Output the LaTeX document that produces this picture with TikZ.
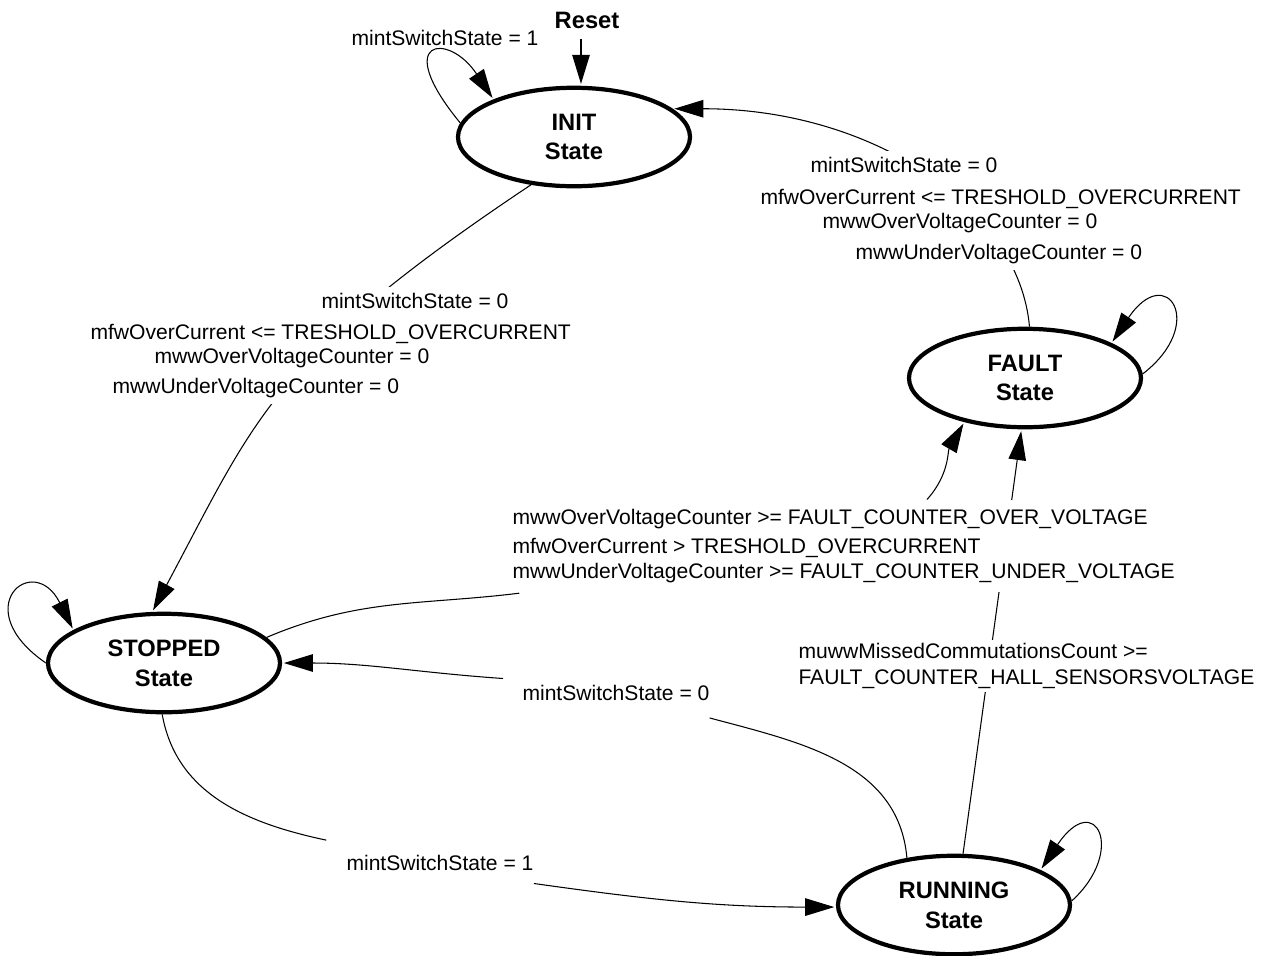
\documentclass[tikz,border=0pt]{standalone}
\usepackage{fontspec}
\setmainfont{Liberation Sans}
\usetikzlibrary{positioning, arrows.meta, shapes.geometric}

\begin{document}
\begin{tikzpicture}[on grid,line width=0.6pt,shorten >=1pt,
		>={Triangle[length=0.58cm,width=0.35cm]},
		fsmstate/.style={ellipse,draw,line width=2.4pt,minimum width=4.64cm,minimum height=1.97cm,
			inner sep=0pt,align=center,font=\fontsize{13.5}{17}\selectfont\bfseries},
		cond/.style={anchor=north west,align=left,fill=white,inner sep=3.4pt,
			font=\fontsize{12}{14}\selectfont}]
	\useasboundingbox (0,0) rectangle (25.48,-19.1);
			\node[fsmstate] (init) at (11.48,-2.74) 					{INIT\\State};
			\node[fsmstate] (fault) [below right=4.82cm and 9.02cm of init]	{FAULT\\State};
			\node[fsmstate] (stopped) [below left=10.52cm and 8.2cm of init]	{STOPPED\\State};
			\node[fsmstate] (running) [below right=4.84cm and 15.8cm of stopped]	{RUNNING\\State};
			\node[font=\fontsize{13.5}{17}\selectfont\bfseries,inner sep=0.2cm] (reset) [above=2.34cm of init,xshift=0.26cm] {Reset};
			\node[font=\fontsize{12}{14}\selectfont] (initloop) at (8.9,-0.76) {mintSwitchState = 1};

			\draw[->] ([xshift=-0.12cm]reset.south) -- ([xshift=0.14cm]init.north);
			\draw[->] (init.173) .. controls +(-1.4,1.7) and +(-0.9,1.36) .. (init.155);
			\draw[->] (stopped.180) .. controls +(-1.6,1.1) and +(-0.8,1.6) .. (stopped.160);
			\draw[->] (fault.2) .. controls +(1.3,1.0) and +(1.1,1.64) .. (fault.22);
			\draw[->] (running.2) .. controls +(1.1,1.0) and +(1.1,1.64) .. (running.22);

			\draw[->] (init.228) .. controls +(-5.2,-3.47) and +(2.07,3.87) .. (stopped.103);
			\draw[->] (fault.85) .. controls +(-0.21,2.39) and +(4,0) .. (init.16);
			\draw[->] (running.80) -- (fault.266);

			\node[cond] (initstop) at (1.68,-5.73) {\hspace*{4.62cm}mintSwitchState = 0\\[3.6pt]
				mfwOverCurrent <= TRESHOLD\_OVERCURRENT\\
				\hspace*{1.28cm}mwwOverVoltageCounter = 0\\[3pt]
				\hspace*{0.44cm}mwwUnderVoltageCounter = 0};
			\node[cond] (faultinit) at (15.08,-3.01) {\hspace*{1cm}mintSwitchState = 0\\[4.1pt]
				mfwOverCurrent <= TRESHOLD\_OVERCURRENT\\
				\hspace*{1.24cm}mwwOverVoltageCounter = 0\\[3.6pt]
				\hspace*{1.9cm}mwwUnderVoltageCounter = 0};
			\node[cond,inner ysep=5.5pt] (tofault) at (10.12,-9.99) {mwwOverVoltageCounter >= FAULT\_COUNTER\_OVER\_VOLTAGE\\[2.4pt]
				mfwOverCurrent > TRESHOLD\_OVERCURRENT\\
				mwwUnderVoltageCounter >= FAULT\_COUNTER\_UNDER\_VOLTAGE};
			\node[cond,inner ysep=2pt] (hall) at (15.84,-12.78) {muwwMissedCommutationsCount >=\\[0.7pt]
				FAULT\_COUNTER\_HALL\_SENSORSVOLTAGE};
			\node[cond] (runstop) at (10.32,-13.57) {mintSwitchState = 0};
			\node[cond] (stoprun) at (6.8,-16.97) {mintSwitchState = 1};

			\path[->] 	(stopped.14) edge[-,out=23,in=187] ([xshift=0.3cm]tofault.south west)
						([xshift=8.42cm]tofault.north west) edge[out=48,in=240] (fault.216)
						(running.135) edge[-,out=95,in=-15] ([shift={(-0.16cm,-0.21cm)}]runstop.south east)
						([xshift=-0.26cm]runstop.north west) edge[out=176,in=0] (stopped.0)
						(stopped.268) edge[-,out=-80,in=168] ([shift={(-0.24cm,0.16cm)}]stoprun.north west)
						([shift={(-0.12cm,-0.13cm)}]stoprun.south east) edge[out=-8,in=180] (running.181)
						;
\end{tikzpicture}
\end{document}
